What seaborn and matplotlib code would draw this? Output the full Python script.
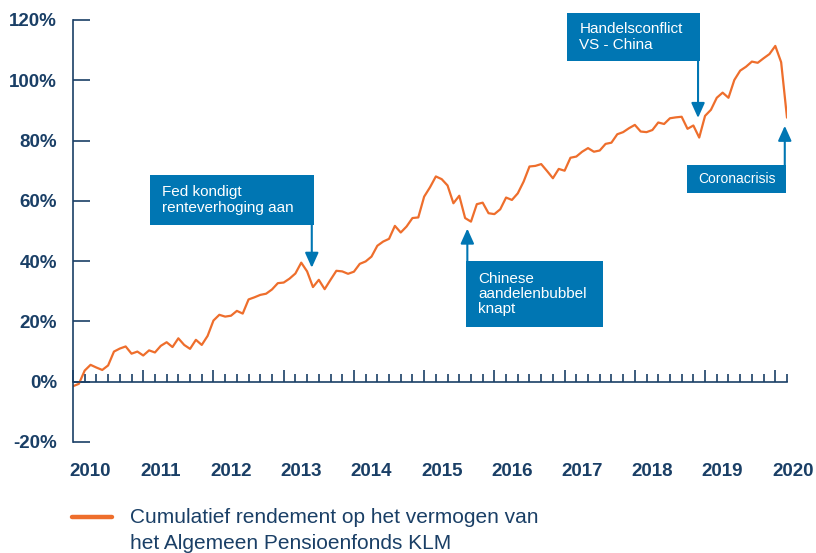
import numpy as np
import pandas as pd
import matplotlib
matplotlib.use("Agg")
import matplotlib.pyplot as plt
from matplotlib.lines import Line2D
from matplotlib.patches import Rectangle
from matplotlib.legend_handler import HandlerLine2D
import seaborn as sns

# Monthly cumulative return (%), starting Oct 2009
months = np.arange(123)
returns = [
    -1.5, -0.7, 3.7, 5.6, 4.7, 3.9, 5.4, 10.0, 11.0, 11.7, 9.3, 10.0,
    8.7, 10.4, 9.7, 11.9, 13.1, 11.5, 14.4, 12.2, 10.9, 13.9, 12.2, 15.2,
    20.3, 22.2, 21.6, 21.9, 23.5, 22.6, 27.3, 28.0, 28.8, 29.2, 30.6, 32.7,
    32.9, 34.2, 35.9, 39.5, 36.6, 31.4, 33.8, 30.7, 33.8, 36.8, 36.6, 35.8,
    36.5, 39.1, 39.9, 41.5, 45.1, 46.5, 47.4, 51.7, 49.5, 51.5, 54.3, 54.5,
    61.4, 64.5, 68.1, 67.2, 65.1, 59.2, 61.7, 54.3, 53.1, 58.9, 59.4, 55.9,
    55.6, 57.2, 61.1, 60.3, 62.5, 66.4, 71.4, 71.6, 72.2, 69.9, 67.5, 70.6,
    70.0, 74.3, 74.7, 76.3, 77.5, 76.3, 76.7, 78.9, 79.3, 82.1, 82.8, 84.1,
    85.2, 83.0, 82.8, 83.5, 86.0, 85.5, 87.4, 87.7, 87.9, 83.9, 85.0, 81.0,
    88.2, 90.2, 94.2, 95.9, 94.2, 100.1, 103.2, 104.5, 106.2, 105.8, 107.3, 108.7,
    111.4, 106.0, 87.6,
]
years = list(range(2010, 2021))
y_ticks = [-20, 0, 20, 40, 60, 80, 100, 120]
legend_label = "Cumulatief rendement op het vermogen van\nhet Algemeen Pensioenfonds KLM"

# annotations: text, box (x0, x1, y0, y1), arrow x, arrow tip y, font size
notes = [
    ("Fed kondigt\nrenteverhoging aan", (2010.85, 2013.18, 52.0, 68.6), 2013.15, 37.8, 11),
    ("Chinese\naandelenbubbel\nknapt", (2015.35, 2017.29, 18.2, 40.1), 2015.365, 50.8, 11),
    ("Handelsconflict\nVS - China", (2016.79, 2018.68, 106.4, 122.3), 2018.65, 87.5, 11),
    ("Coronacrisis", (2018.49, 2019.905, 62.6, 71.9), 2019.885, 84.9, 10),
]

navy = "#1a3f66"
orange = "#ee6e2c"
blue = "#0076b3"


class FirstLineHandler(HandlerLine2D):
    # put the legend line next to the first text line instead of the middle
    def create_artists(self, *args, **kwargs):
        arts = super().create_artists(*args, **kwargs)
        for a in arts:
            a.set_ydata(np.asarray(a.get_ydata()) + 9.5)
        return arts


sns.set_style("white")
plt.rcParams["font.family"] = ["Liberation Sans", "DejaVu Sans"]

df = pd.DataFrame({"year": 2009.75 + months / 12, "ret": returns})

fig = plt.figure(figsize=(8.16, 5.53), dpi=100)
ax = fig.add_axes([73 / 816, 111 / 553, 714 / 816, 422 / 553])
sns.lineplot(data=df, x="year", y="ret", ax=ax, color=orange, lw=1.6)

ax.set_xlim(2009.75, 2009.75 + 122 / 12)
ax.set_ylim(-20, 120)
ax.set_xlabel("")
ax.set_ylabel("")

for s in ["top", "right"]:
    ax.spines[s].set_visible(False)
ax.spines["bottom"].set_position(("data", 0))
for s in ["left", "bottom"]:
    ax.spines[s].set_color(navy)
    ax.spines[s].set_linewidth(1.2)

ax.set_yticks(y_ticks)
ax.set_yticklabels([f"{v}%" for v in y_ticks], fontsize=13.5, fontweight="bold", color=navy)
ax.tick_params(axis="y", left=True, direction="in", length=12, width=1.2, color=navy, pad=11.5)

ax.set_xticks(2009.75 + np.arange(11))
ax.set_xticks(2009.75 + np.arange(62) / 6, minor=True)
ax.tick_params(axis="x", which="major", bottom=True, direction="in", length=9, width=1.2,
               color=navy, labelbottom=False)
ax.tick_params(axis="x", which="minor", bottom=True, direction="in", length=5.5, width=1.2,
               color=navy, labelbottom=False)

for yr in years:
    ax.text(yr, -29.9, str(yr), ha="center", va="center", fontsize=13.5,
            fontweight="bold", color=navy, clip_on=False)

for text, (x0, x1, y0, y1), ax_x, tip, fs in notes:
    ax.add_patch(Rectangle((x0, y0), x1 - x0, y1 - y0, facecolor=blue,
                           edgecolor="none", clip_on=False, zorder=4))
    ax.text(x0 + 0.17, (y0 + y1) / 2, text, ha="left", va="center", color="white",
            fontsize=fs, linespacing=1.12, zorder=5, clip_on=False)
    start = y0 if tip < y0 else y1
    ax.annotate("", xy=(ax_x, tip), xytext=(ax_x, start),
                arrowprops=dict(arrowstyle="-|>,head_length=0.6,head_width=0.27",
                                mutation_scale=15, color=blue, lw=1.5,
                                shrinkA=0, shrinkB=0), zorder=4)

if ax.get_legend() is not None:
    ax.get_legend().remove()
handle = Line2D([], [], color=orange, lw=3.2, solid_capstyle="round")
leg = fig.legend([handle], [legend_label], loc="upper left",
                 bbox_to_anchor=(72 / 816, 1 - 508 / 553), frameon=False,
                 fontsize=15, handlelength=1.9, handletextpad=0.9,
                 borderpad=0, borderaxespad=0,
                 handler_map={Line2D: FirstLineHandler()})
for t in leg.get_texts():
    t.set_color(navy)
    t.set_linespacing(1.45)

fig.savefig("out.png", dpi=100)
